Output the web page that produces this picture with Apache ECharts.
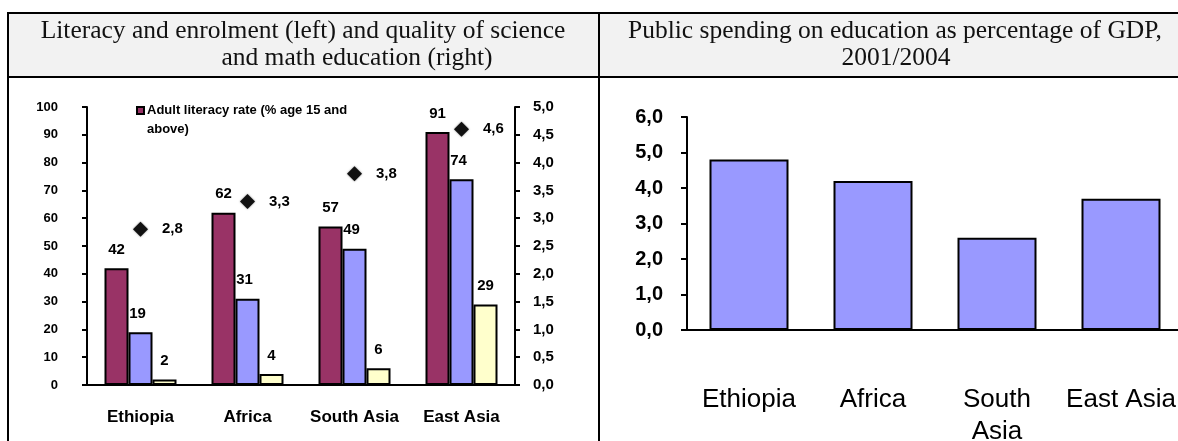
<!doctype html>
<html>
	<head>
		<meta charset="UTF-8">
		<title>Education indicators</title>
		<style type="text/css">
		*{margin: 0;padding: 0;}
		html,body {width: 100%;height: 100%;background: #fff;}
		#main{width: 1178px;height: 441px;}
		</style>
	</head>
	<body>
		<div id="main"></div>
		<script src="https://cdn.jsdelivr.net/npm/echarts@6.0.0/dist/echarts.min.js"></script>
		<script type="text/javascript">
			// data
			var categories = ['Ethiopia', 'Africa', 'South Asia', 'East Asia'];
			var literacy = [42, 62, 57, 91];
			var enrolment = [19, 31, 49, 74];
			var tertiary = [2, 4, 6, 29];
			var quality = [2.8, 3.3, 3.8, 4.6];
			var spending = [4.8, 4.2, 2.6, 3.7];
			var spendLabels = ['Ethiopia', 'Africa', 'South\nAsia', 'East Asia'];

			var sans = 'Liberation Sans, Arial, sans-serif';
			var serif = 'Liberation Serif, Times New Roman, serif';
			function comma(v) { return Number(v).toFixed(1).replace('.', ','); }

			var myChart = echarts.init(document.getElementById('main'));
			var barLabel = {show: true, position: 'top', distance: 11, color: '#000', fontFamily: sans, fontWeight: 'bold', fontSize: 15};
			var line = {lineStyle: {color: '#000', width: 2}};
			var head = '25.5px ' + serif;

			option = {
				animation: false,
				backgroundColor: '#fff',
				graphic: [
					{type: 'rect', shape: {x: 8, y: 13, width: 1172, height: 64}, style: {fill: '#f2f2f2'}, z: -10},
					{type: 'line', shape: {x1: 8, y1: 13, x2: 1180, y2: 13}, style: {stroke: '#000', lineWidth: 2}},
					{type: 'line', shape: {x1: 8, y1: 77, x2: 1180, y2: 77}, style: {stroke: '#000', lineWidth: 2}},
					{type: 'line', shape: {x1: 8, y1: 12, x2: 8, y2: 445}, style: {stroke: '#000', lineWidth: 2}},
					{type: 'line', shape: {x1: 599, y1: 12, x2: 599, y2: 445}, style: {stroke: '#000', lineWidth: 2}},
					{type: 'text', x: 303, y: 31, style: {text: 'Literacy and enrolment (left) and quality of science', font: head, fill: '#111', align: 'center', verticalAlign: 'middle'}},
					{type: 'text', x: 357, y: 58, style: {text: 'and math education (right)', font: head, fill: '#111', align: 'center', verticalAlign: 'middle'}},
					{type: 'text', x: 895, y: 31, style: {text: 'Public spending on education as percentage of GDP,', font: head, fill: '#111', align: 'center', verticalAlign: 'middle'}},
					{type: 'text', x: 896, y: 58, style: {text: '2001/2004', font: head, fill: '#111', align: 'center', verticalAlign: 'middle'}}
				],
				legend: {
					data: ['Adult literacy rate'],
					left: 131, top: 96,
					itemWidth: 7, itemHeight: 28, itemGap: 0,
					icon: 'path://M0,0L8,0L8,8L0,8Z M0,30',
					selectedMode: false,
					formatter: function () { return 'Adult literacy rate (% age 15 and\nabove)'; },
					textStyle: {fontFamily: sans, fontWeight: 'bold', fontSize: 13, lineHeight: 19, color: '#000', padding: [0, 0, 0, -2]}
				},
				grid: [
					{left: 87, top: 107, width: 428, height: 278, outerBoundsMode: 'none'},
					{left: 687, top: 117, width: 496, height: 213, outerBoundsMode: 'none'}
				],
				xAxis: [
					{type: 'category', gridIndex: 0, data: categories,
						axisLine: line, axisTick: {length: 6, lineStyle: {color: '#000', width: 2}},
						axisLabel: {interval: 0, margin: 24, color: '#000', fontFamily: sans, fontWeight: 'bold', fontSize: 17}},
					{type: 'category', gridIndex: 1, data: spendLabels,
						axisLine: line, axisTick: {length: 8, lineStyle: {color: '#000', width: 2}},
						axisLabel: {interval: 0, margin: 54, color: '#000', fontFamily: sans, fontSize: 26, lineHeight: 32}}
				],
				yAxis: [
					{type: 'value', gridIndex: 0, min: 0, max: 100, interval: 10,
						axisLine: {show: true, lineStyle: {color: '#000', width: 2}}, axisTick: {show: true, length: 5, lineStyle: {color: '#000', width: 2}},
						splitLine: {show: false},
						axisLabel: {margin: 29, color: '#000', fontFamily: sans, fontWeight: 'bold', fontSize: 13}},
					{type: 'value', gridIndex: 0, position: 'right', min: 0, max: 5, interval: 0.5,
						axisLine: {show: true, lineStyle: {color: '#000', width: 2}}, axisTick: {show: true, length: 5, lineStyle: {color: '#000', width: 2}},
						splitLine: {show: false},
						axisLabel: {margin: 18, color: '#000', fontFamily: sans, fontWeight: 'bold', fontSize: 15, formatter: comma}},
					{type: 'value', gridIndex: 1, min: 0, max: 6, interval: 1,
						axisLine: {show: true, lineStyle: {color: '#000', width: 2}}, axisTick: {show: true, length: 6, lineStyle: {color: '#000', width: 2}},
						splitLine: {show: false},
						axisLabel: {margin: 24, color: '#000', fontFamily: sans, fontWeight: 'bold', fontSize: 20, formatter: comma}}
				],
				series: [
					{name: 'Adult literacy rate', type: 'bar', xAxisIndex: 0, yAxisIndex: 0, data: literacy,
						barWidth: 24, barGap: '0%',
						itemStyle: {color: '#993366', borderColor: '#000', borderWidth: 2},
						label: barLabel},
					{name: 'Enrolment', type: 'bar', xAxisIndex: 0, yAxisIndex: 0, data: enrolment,
						barWidth: 24, barGap: '0%',
						itemStyle: {color: '#9999ff', borderColor: '#000', borderWidth: 2},
						label: Object.assign({}, barLabel, {offset: [-3, 0]})},
					{name: 'Tertiary enrolment', type: 'bar', xAxisIndex: 0, yAxisIndex: 0, data: tertiary,
						barWidth: 24, barGap: '0%',
						itemStyle: {color: '#ffffcc', borderColor: '#000', borderWidth: 2},
						label: barLabel},
					{name: 'Quality of science and math', type: 'scatter', xAxisIndex: 0, yAxisIndex: 1, data: quality,
						symbol: 'diamond', symbolSize: 15,
						itemStyle: {color: '#111', opacity: 1, shadowColor: 'rgba(0,0,0,0.5)', shadowBlur: 2},
						label: {show: true, position: 'right', distance: 14, color: '#000', fontFamily: sans, fontWeight: 'bold', fontSize: 15,
							formatter: function (p) { return comma(p.value); }}},
					{name: 'Public spending', type: 'bar', xAxisIndex: 1, yAxisIndex: 2, data: spending,
						barWidth: 79,
						itemStyle: {color: '#9999ff', borderColor: '#000', borderWidth: 2}}
				]
			};
			myChart.setOption(option);
		</script>
	</body>
</html>
